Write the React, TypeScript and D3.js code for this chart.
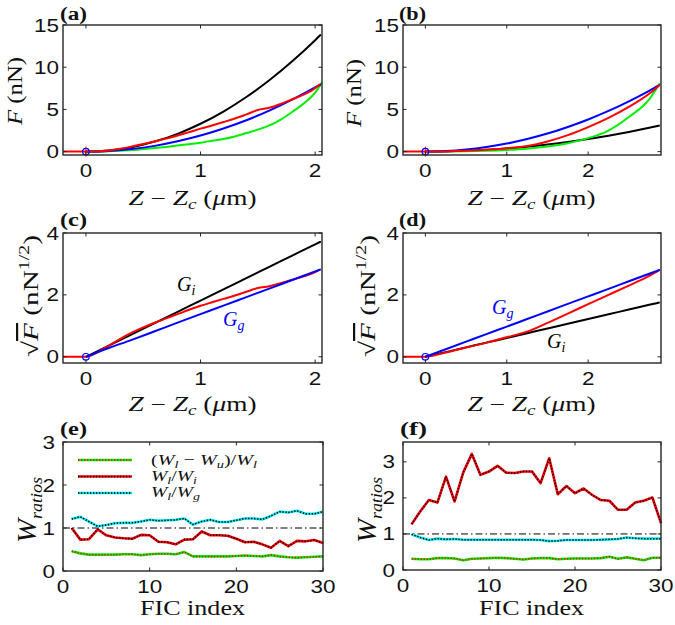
import React from 'react';
import * as d3 from 'd3';

// ---------- data: panel (a) ----------
const zA_exp = [-0.2, -0.1, 0, 0.1, 0.2, 0.3, 0.4, 0.5, 0.6, 0.7, 0.8, 0.9, 1.0, 1.1, 1.2, 1.3, 1.4, 1.5, 1.6, 1.7, 1.8, 1.9, 2.0, 2.04];
const fA_exp = [0, 0, 0, 0.02, 0.13, 0.34, 0.61, 0.9, 1.21, 1.54, 1.9, 2.31, 2.72, 3.1, 3.5, 3.92, 4.41, 4.93, 5.2, 5.66, 6.2, 6.76, 7.5, 8.0];
const zA_unl = [0, 0.1, 0.2, 0.3, 0.4, 0.5, 0.6, 0.7, 0.8, 0.9, 1.0, 1.1, 1.2, 1.3, 1.4, 1.5, 1.6, 1.7, 1.8, 1.9, 2.0, 2.06];
const fA_unl = [0, 0.01, 0.04, 0.1, 0.18, 0.3, 0.42, 0.56, 0.72, 0.88, 1.05, 1.3, 1.5, 1.8, 2.2, 2.6, 3.1, 3.8, 4.7, 5.7, 7.0, 8.2];
const zA_fit = [0, 0.2, 0.4, 0.6, 0.8, 1.0, 1.2, 1.4, 1.6, 1.8, 2.0, 2.05];
const fA_Gi = [0, 0.13, 0.53, 1.19, 2.11, 3.3, 4.75, 6.47, 8.45, 10.7, 13.2, 13.87];
const fA_Gg = [0, 0.08, 0.3, 0.68, 1.22, 1.9, 2.74, 3.72, 4.86, 6.16, 7.6, 7.98];

// ---------- data: panel (b) ----------
const zB_exp = [-0.275, 0, 0.25, 0.5, 0.75, 1.0, 1.25, 1.5, 1.75, 2.0, 2.25, 2.5, 2.75, 2.88];
const fB_exp = [0, 0, 0.02, 0.09, 0.21, 0.4, 0.66, 1.2, 1.95, 2.9, 4.0, 5.3, 6.85, 7.9];
const zB_unl = [0, 0.25, 0.5, 0.75, 1.0, 1.25, 1.5, 1.75, 2.0, 2.25, 2.5, 2.75, 2.88];
const fB_unl = [0, 0.01, 0.04, 0.1, 0.2, 0.35, 0.6, 1.0, 1.6, 2.5, 4.1, 6.2, 8.1];
const zB_fit = [0, 0.25, 0.5, 0.75, 1.0, 1.25, 1.5, 1.75, 2.0, 2.25, 2.5, 2.75, 2.88];
const fB_Gi = [0, 0.023, 0.093, 0.21, 0.37, 0.58, 0.84, 1.14, 1.49, 1.89, 2.33, 2.82, 3.09];
const fB_Gg = [0, 0.06, 0.24, 0.54, 0.95, 1.49, 2.14, 2.92, 3.81, 4.82, 5.96, 7.21, 7.9];

// ---------- data: panels (e), (f) ----------
const ficIndex = d3.range(1, 31);
const eLU = [0.46, 0.41, 0.38, 0.38, 0.38, 0.38, 0.39, 0.39, 0.37, 0.39, 0.40, 0.40, 0.39, 0.44, 0.34, 0.34, 0.34, 0.34, 0.34, 0.35, 0.36, 0.35, 0.34, 0.37, 0.34, 0.32, 0.31, 0.32, 0.33, 0.34];
const eLI = [1.0, 0.73, 0.74, 0.97, 0.83, 0.78, 0.76, 0.75, 0.84, 0.83, 0.68, 0.67, 0.62, 0.73, 0.74, 0.92, 0.83, 0.83, 0.82, 0.75, 0.67, 0.68, 0.62, 0.54, 0.70, 0.58, 0.70, 0.69, 0.72, 0.65];
const eLG = [1.21, 1.26, 1.15, 1.04, 1.07, 1.11, 1.12, 1.12, 1.15, 1.19, 1.17, 1.18, 1.19, 1.22, 1.08, 1.15, 1.19, 1.14, 1.14, 1.18, 1.22, 1.22, 1.20, 1.28, 1.38, 1.36, 1.40, 1.33, 1.33, 1.38];
const fLI = [1.27, 1.62, 1.94, 1.87, 2.59, 1.90, 2.70, 3.22, 2.64, 2.73, 2.89, 2.70, 2.69, 2.73, 2.73, 2.41, 3.10, 2.10, 2.33, 2.13, 2.26, 2.08, 1.94, 1.92, 1.67, 1.67, 1.87, 1.92, 2.01, 1.30];
const fLG = [0.99, 0.90, 0.83, 0.87, 0.85, 0.86, 0.84, 0.84, 0.84, 0.84, 0.84, 0.84, 0.84, 0.84, 0.84, 0.83, 0.80, 0.81, 0.83, 0.83, 0.83, 0.83, 0.84, 0.85, 0.86, 0.90, 0.88, 0.87, 0.87, 0.87];
const fLU = [0.31, 0.30, 0.30, 0.33, 0.33, 0.32, 0.27, 0.31, 0.32, 0.33, 0.34, 0.33, 0.31, 0.29, 0.32, 0.33, 0.33, 0.30, 0.31, 0.32, 0.32, 0.32, 0.33, 0.37, 0.31, 0.35, 0.31, 0.27, 0.34, 0.34];

const ticksZA = [0, 1, 2];
const ticksF = [0, 5, 10, 15];
const ticksSqrt = [0, 2, 4];
const ticksFIC = [0, 10, 20, 30];
const ticksRatioE = [0, 1, 2, 3];
const ticksRatioF = [0, 1, 2, 3];

// ---------- layout ----------
type Box = { l: number; r: number; t: number; b: number };
const boxA: Box = { l: 63, r: 322, t: 25, b: 155 };
const boxB: Box = { l: 403, r: 661, t: 25, b: 155 };
const boxC: Box = { l: 63, r: 322, t: 233, b: 363 };
const boxD: Box = { l: 403, r: 661, t: 233, b: 363 };
const boxE: Box = { l: 63, r: 323, t: 442, b: 571 };
const boxF: Box = { l: 403, r: 661, t: 442, b: 570 };

const SERIF = "'Liberation Serif', 'DejaVu Serif', serif";
const SANS = "'Liberation Sans', Arial, sans-serif";
const FRAME = '#262626';

const zip = (xs: number[], ys: number[]) => xs.map((x, i) => [x, ys[i]] as [number, number]);
const sq = (ys: number[]) => ys.map((v) => Math.sqrt(v));

function Axes({ box, xs, ys, xTicks, yTicks, yGap }: any) {
  return (
    <g>
      {xTicks.map((v: number) => (
        <g key={'x' + v}>
          <line x1={xs(v)} x2={xs(v)} y1={box.b} y2={box.b - 3.5} stroke={FRAME} strokeWidth={1} />
          <line x1={xs(v)} x2={xs(v)} y1={box.t} y2={box.t + 3.5} stroke={FRAME} strokeWidth={1} />
          <text x={xs(v)} y={box.b + 22} textAnchor="middle" fontFamily={SANS} fontSize={19}
            textLength={12.5 * String(v).length} lengthAdjust="spacingAndGlyphs" fill="#111">{v}</text>
        </g>
      ))}
      {yTicks.map((v: number) => (
        <g key={'y' + v}>
          <line x1={box.l} x2={box.l + 3.5} y1={ys(v)} y2={ys(v)} stroke={FRAME} strokeWidth={1} />
          <line x1={box.r} x2={box.r - 3.5} y1={ys(v)} y2={ys(v)} stroke={FRAME} strokeWidth={1} />
          <text x={box.l - yGap} y={ys(v) + 6.5} textAnchor="end" fontFamily={SANS} fontSize={19}
            textLength={12.5 * String(v).length} lengthAdjust="spacingAndGlyphs" fill="#111">{v}</text>
        </g>
      ))}
      <rect x={box.l} y={box.t} width={box.r - box.l} height={box.b - box.t} fill="none" stroke={FRAME} strokeWidth={1.4} />
    </g>
  );
}

function PanelLabel({ x, y, s }: any) {
  return (
    <text x={x} y={y} fontFamily={SERIF} fontWeight="bold" fontSize={18} textLength={27} lengthAdjust="spacingAndGlyphs" fill="#111">{s}</text>
  );
}

function ZLabel({ cx, y }: any) {
  return (
    <text x={cx} y={y} textAnchor="middle" fontFamily={SERIF} fontSize={20} textLength={128} lengthAdjust="spacingAndGlyphs" fill="#111">
      <tspan fontStyle="italic">Z</tspan>
      <tspan> − </tspan>
      <tspan fontStyle="italic">Z</tspan>
      <tspan fontStyle="italic" fontSize={14} dy={4}>c</tspan>
      <tspan dy={-4}> (</tspan>
      <tspan fontStyle="italic">μ</tspan>
      <tspan>m)</tspan>
    </text>
  );
}

function FLabel({ x, cy }: any) {
  return (
    <g transform={`translate(${x},${cy}) rotate(-90)`}>
      <text x={0} y={0} textAnchor="middle" fontFamily={SERIF} fontSize={22} textLength={68} lengthAdjust="spacingAndGlyphs" fill="#111">
        <tspan fontStyle="italic">F</tspan>
        <tspan> (nN)</tspan>
      </text>
    </g>
  );
}

function SqrtLabel({ x, cy }: any) {
  return (
    <g transform={`translate(${x},${cy}) rotate(-90)`}>
      <text x={0} y={0} textAnchor="middle" fontFamily={SERIF} fontSize={22} textLength={122} lengthAdjust="spacingAndGlyphs" fill="#111">
        <tspan>√</tspan>
        <tspan fontStyle="italic" style={{ textDecoration: 'overline' }}>F</tspan>
        <tspan> (nN</tspan>
        <tspan fontSize={15} dy={-9}>1/2</tspan>
        <tspan dy={9}>)</tspan>
      </text>
    </g>
  );
}

function WLabel({ x, cy }: any) {
  return (
    <g transform={`translate(${x},${cy}) rotate(-90)`}>
      <text x={0} y={0} textAnchor="middle" fontFamily={SERIF} fontSize={27} textLength={66} lengthAdjust="spacingAndGlyphs" fill="#111">
        <tspan fontStyle="italic">W</tspan>
        <tspan fontStyle="italic" fontSize={17} dy={6}>ratios</tspan>
      </text>
    </g>
  );
}

function FICLabel({ cx, y }: any) {
  return (
    <text x={cx} y={y} textAnchor="middle" fontFamily={SERIF} fontSize={21} textLength={105} lengthAdjust="spacingAndGlyphs" fill="#111">FIC index</text>
  );
}

function GLabel({ x, y, sub, color }: any) {
  return (
    <text x={x} y={y} fontFamily={SERIF} fontSize={20} fill={color}>
      <tspan fontStyle="italic">G</tspan>
      <tspan fontStyle="italic" fontSize={14} dy={4}>{sub}</tspan>
    </text>
  );
}

function ForcePanel({ box, xDom, yDom, xTicks, yTicks, series, markers }: any) {
  const xs = d3.scaleLinear().domain(xDom).range([box.l, box.r]);
  const ys = d3.scaleLinear().domain(yDom).range([box.b, box.t]);
  const line = d3.line<[number, number]>().x((d) => xs(d[0])).y((d) => ys(d[1])).curve(d3.curveMonotoneX);
  return (
    <g>
      {series.map((s: any, i: number) => (
        <path key={i} d={line(s.pts) || ''} fill="none" stroke={s.color} strokeWidth={2} strokeLinejoin="round" />
      ))}
      {markers && (
        <g>
          <line x1={xs(0) - 4} x2={xs(0) + 4} y1={ys(0)} y2={ys(0)} stroke="#ff0000" strokeWidth={1} />
          <line x1={xs(0)} x2={xs(0)} y1={ys(0) - 5} y2={ys(0) + 5} stroke="#ff0000" strokeWidth={1} />
        </g>
      )}
      <circle cx={xs(0)} cy={ys(0)} r={3.3} fill="none" stroke="#0000ff" strokeWidth={1.2} />
      <Axes box={box} xs={xs} ys={ys} xTicks={xTicks} yTicks={yTicks} yGap={4} />
    </g>
  );
}

function RatioPanel({ box, yDom, yTicks, lu, li, lg }: any) {
  const xs = d3.scaleLinear().domain([0, 30]).range([box.l, box.r]);
  const ys = d3.scaleLinear().domain(yDom).range([box.b, box.t]);
  const line = d3.line<number>().x((_, i) => xs(ficIndex[i])).y((d) => ys(d));
  const styles = [
    { data: lu, base: '#00ee00', dot: '#ff0000' },
    { data: li, base: '#ff0000', dot: '#000000' },
    { data: lg, base: '#00e5ee', dot: '#000000' },
  ];
  return (
    <g>
      <line x1={box.l} x2={box.r} y1={ys(1)} y2={ys(1)} stroke="#000" strokeWidth={1} strokeDasharray="7 3 1.5 3" />
      {styles.map((s, i) => (
        <g key={i}>
          <path d={line(s.data) || ''} fill="none" stroke={s.base} strokeWidth={2.6} strokeLinejoin="round" />
          <path d={line(s.data) || ''} fill="none" stroke={s.dot} strokeWidth={1.5} strokeDasharray="1.3 1.7" />
        </g>
      ))}
      <Axes box={box} xs={xs} ys={ys} xTicks={ticksFIC} yTicks={yTicks} yGap={8} />
    </g>
  );
}

function Legend() {
  const rows = [
    { y: 460, base: '#00ee00', dot: '#ff0000' },
    { y: 476.5, base: '#ff0000', dot: '#000000' },
    { y: 493, base: '#00e5ee', dot: '#000000' },
  ];
  return (
    <g>
      {rows.map((r, i) => (
        <g key={i}>
          <line x1={78} x2={132} y1={r.y} y2={r.y} stroke={r.base} strokeWidth={2.6} />
          <line x1={78} x2={132} y1={r.y} y2={r.y} stroke={r.dot} strokeWidth={1.5} strokeDasharray="1.3 1.7" />
        </g>
      ))}
      <text x={151} y={464.5} fontFamily={SERIF} fontSize={15.5} textLength={106} lengthAdjust="spacingAndGlyphs" fill="#111">
        <tspan>(</tspan><tspan fontStyle="italic">W</tspan><tspan fontStyle="italic" fontSize={11} dy={3}>l</tspan>
        <tspan dy={-3}> − </tspan><tspan fontStyle="italic">W</tspan><tspan fontStyle="italic" fontSize={11} dy={3}>u</tspan>
        <tspan dy={-3}>)/</tspan><tspan fontStyle="italic">W</tspan><tspan fontStyle="italic" fontSize={11} dy={3}>l</tspan>
      </text>
      <text x={151} y={480.5} fontFamily={SERIF} fontSize={15.5} textLength={46} lengthAdjust="spacingAndGlyphs" fill="#111">
        <tspan fontStyle="italic">W</tspan><tspan fontStyle="italic" fontSize={11} dy={3}>l</tspan>
        <tspan dy={-3}>/</tspan><tspan fontStyle="italic">W</tspan><tspan fontStyle="italic" fontSize={11} dy={3}>i</tspan>
      </text>
      <text x={151} y={497} fontFamily={SERIF} fontSize={15.5} textLength={49} lengthAdjust="spacingAndGlyphs" fill="#111">
        <tspan fontStyle="italic">W</tspan><tspan fontStyle="italic" fontSize={11} dy={3}>l</tspan>
        <tspan dy={-3}>/</tspan><tspan fontStyle="italic">W</tspan><tspan fontStyle="italic" fontSize={11} dy={3}>g</tspan>
      </text>
    </g>
  );
}

export default function App() {
  const xDomA = [-0.2, 2.06];
  const xDomB = [-0.275, 2.895];
  return (
    <svg width={675} height={625} viewBox="0 0 675 625" style={{ position: 'absolute', left: 0, top: 0, background: '#fff' }}>
      <rect x={0} y={0} width={675} height={625} fill="#fff" />
      {/* (a) */}
      <ForcePanel box={boxA} xDom={xDomA} yDom={[-0.4, 15]} xTicks={ticksZA} yTicks={ticksF} markers
        series={[
          { pts: zip(zA_fit, fA_Gi), color: '#000000' },
          { pts: zip(zA_unl, fA_unl), color: '#00ee00' },
          { pts: zip(zA_fit, fA_Gg), color: '#0000ff' },
          { pts: zip(zA_exp, fA_exp), color: '#ff0000' },
        ]} />
      {/* (b) */}
      <ForcePanel box={boxB} xDom={xDomB} yDom={[-0.4, 15]} xTicks={ticksZA} yTicks={ticksF} markers
        series={[
          { pts: zip(zB_fit, fB_Gi), color: '#000000' },
          { pts: zip(zB_unl, fB_unl), color: '#00ee00' },
          { pts: zip(zB_fit, fB_Gg), color: '#0000ff' },
          { pts: zip(zB_exp, fB_exp), color: '#ff0000' },
        ]} />
      {/* (c) */}
      <ForcePanel box={boxC} xDom={xDomA} yDom={[-0.2, 4]} xTicks={ticksZA} yTicks={ticksSqrt}
        series={[
          { pts: zip(zA_fit, sq(fA_Gi)), color: '#000000' },
          { pts: zip(zA_exp, sq(fA_exp)), color: '#ff0000' },
          { pts: zip(zA_fit, sq(fA_Gg)), color: '#0000ff' },
        ]} />
      {/* (d) */}
      <ForcePanel box={boxD} xDom={xDomB} yDom={[-0.2, 4]} xTicks={ticksZA} yTicks={ticksSqrt}
        series={[
          { pts: zip(zB_fit, sq(fB_Gi)), color: '#000000' },
          { pts: zip(zB_exp, sq(fB_exp)), color: '#ff0000' },
          { pts: zip(zB_fit, sq(fB_Gg)), color: '#0000ff' },
        ]} />
      {/* (e) */}
      <RatioPanel box={boxE} yDom={[0, 3]} yTicks={ticksRatioE} lu={eLU} li={eLI} lg={eLG} />
      <Legend />
      {/* (f) */}
      <RatioPanel box={boxF} yDom={[0, 3.55]} yTicks={ticksRatioF} lu={fLU} li={fLI} lg={fLG} />

      <PanelLabel x={60} y={19.5} s="(a)" />
      <PanelLabel x={399} y={19.5} s="(b)" />
      <PanelLabel x={60} y={226} s="(c)" />
      <PanelLabel x={399} y={226} s="(d)" />
      <PanelLabel x={60} y={435} s="(e)" />
      <PanelLabel x={400} y={435} s="(f)" />

      <FLabel x={22} cy={91} />
      <FLabel x={361} cy={93} />
      <SqrtLabel x={38} cy={296} />
      <SqrtLabel x={375} cy={296} />
      <WLabel x={36} cy={510} />
      <WLabel x={376} cy={510} />

      <ZLabel cx={192.5} y={205} />
      <ZLabel cx={531.5} y={205} />
      <ZLabel cx={192.5} y={411} />
      <ZLabel cx={531.5} y={411} />
      <FICLabel cx={192.5} y={615} />
      <FICLabel cx={531.5} y={615} />

      <GLabel x={177} y={291} sub="i" color="#000" />
      <GLabel x={223} y={326} sub="g" color="#0000ff" />
      <GLabel x={492} y={314} sub="g" color="#0000ff" />
      <GLabel x={547} y={348} sub="i" color="#000" />
    </svg>
  );
}
